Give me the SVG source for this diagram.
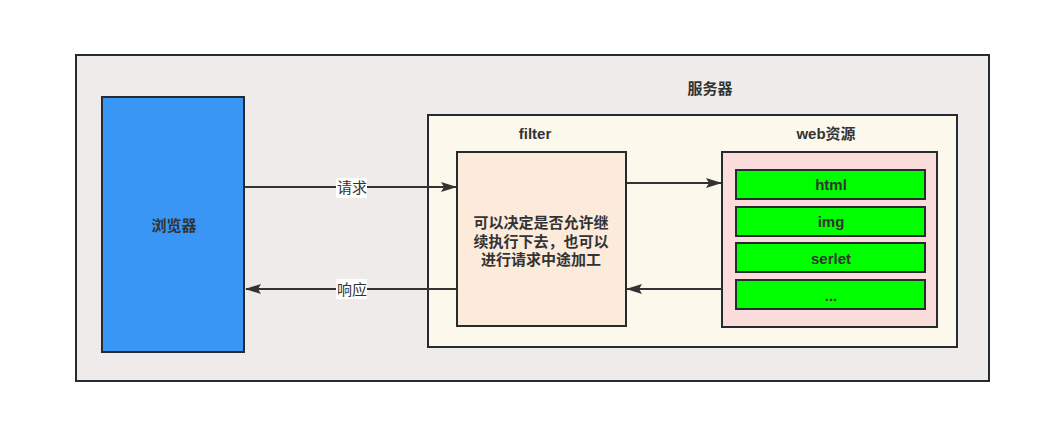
<svg xmlns="http://www.w3.org/2000/svg" width="1051" height="421" viewBox="0 0 1051 421">
<style>
.box{stroke:#262b31;stroke-width:2}
.t{font-family:"Liberation Sans","Noto Sans CJK SC",sans-serif;font-size:15px;font-weight:bold;fill:#333;text-anchor:middle}
.lbl{font-family:"Liberation Sans","Noto Sans CJK SC",sans-serif;font-size:15px;fill:#333;text-anchor:middle}
.c{stroke:#333;stroke-width:2;fill:none}
</style>
<defs>
<marker id="ah" markerWidth="16" markerHeight="10" refX="15" refY="5" orient="auto" markerUnits="userSpaceOnUse">
<path d="M0,0 L16,5 L0,10 L3,5 Z" fill="#333"/>
</marker>
</defs>
<rect width="1051" height="421" fill="#fff"/>
<g id="server">
<rect class="box" x="76" y="55" width="913" height="326" fill="#efebea"/>
<text class="t" x="710" y="94">服务器</text>
</g>
<g id="browser">
<rect class="box" x="102" y="97" width="142" height="255" fill="#3996f5"/>
<text class="t" x="174" y="231">浏览器</text>
</g>
<g id="panel">
<rect class="box" x="428" y="115" width="529" height="232" fill="#fcf8ec"/>
<text class="t" x="535" y="139">filter</text>
<text class="t" x="826" y="139">web资源</text>
</g>
<g id="filter">
<rect class="box" x="457" y="152" width="169" height="174" fill="#fceadb"/>
<text class="t" x="541" y="228">可以决定是否允许继</text>
<text class="t" x="541" y="246.5">续执行下去，也可以</text>
<text class="t" x="541" y="265">进行请求中途加工</text>
</g>
<g id="web">
<rect class="box" x="722" y="152" width="215" height="175" fill="#fadcdb"/>
</g>
<g id="html"><rect class="box" x="736" y="170" width="189" height="29" fill="#00ff00"/><text class="t" x="831" y="190">html</text></g>
<g id="img"><rect class="box" x="736" y="207" width="189" height="29" fill="#00ff00"/><text class="t" x="831" y="227">img</text></g>
<g id="serlet"><rect class="box" x="736" y="243" width="189" height="29" fill="#00ff00"/><text class="t" x="831" y="264">serlet</text></g>
<g id="more"><rect class="box" x="736" y="280" width="189" height="29" fill="#00ff00"/><text class="t" x="831" y="301">...</text></g>
<g id="connectors">
<line class="c" x1="245" y1="187" x2="456" y2="187" marker-end="url(#ah)"/>
<rect x="336" y="178" width="31" height="20" fill="#fff"/>
<text class="lbl" x="352" y="193">请求</text>
<line class="c" x1="457" y1="289" x2="246" y2="289" marker-end="url(#ah)"/>
<rect x="336" y="279" width="31" height="20" fill="#fff"/>
<text class="lbl" x="352" y="295">响应</text>
<line class="c" x1="627" y1="183" x2="721" y2="183" marker-end="url(#ah)"/>
<line class="c" x1="722" y1="289" x2="627" y2="289" marker-end="url(#ah)"/>
</g>
</svg>
